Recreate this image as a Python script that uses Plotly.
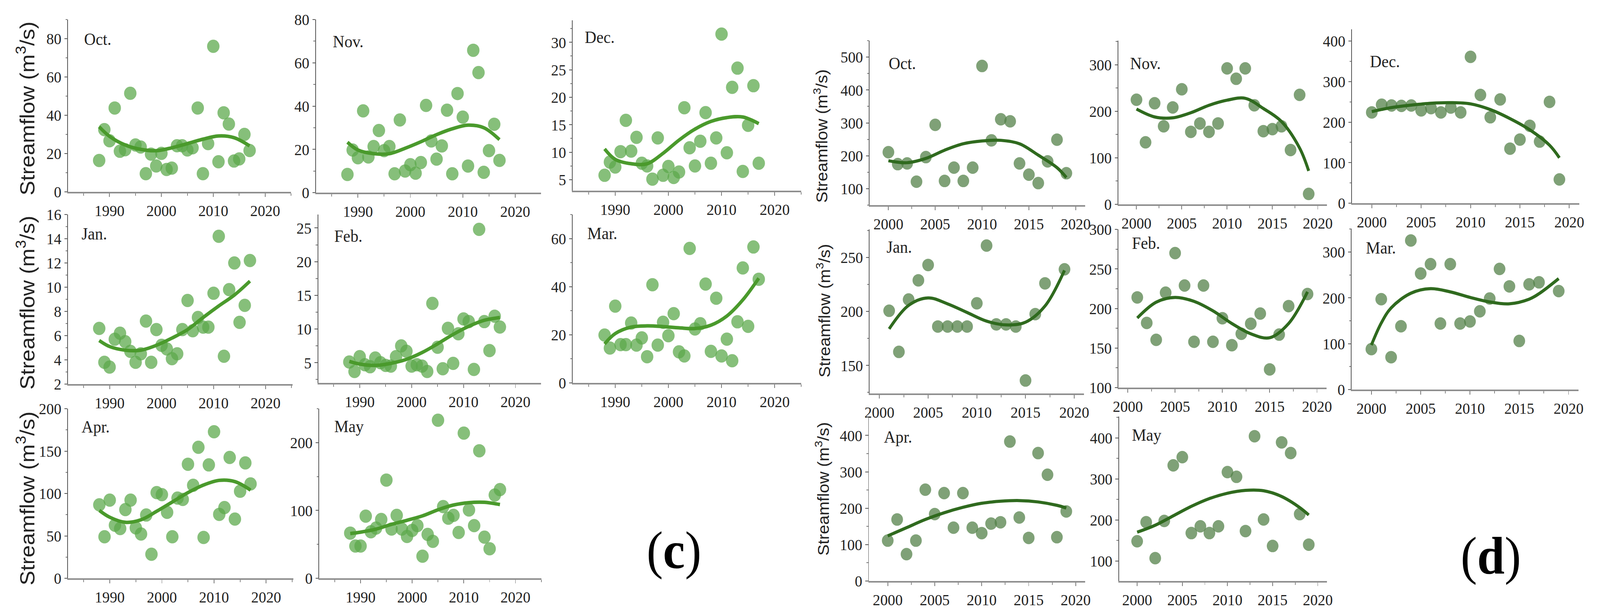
import plotly.graph_objects as go

W, H = 4375, 1574

# ---------------- panel (c): 1988-2017 ----------------
years_c = list(range(1988, 2018))
c_oct = [16.4, 32.5, 26.7, 43.8, 21.2, 22.0, 51.5, 24.5, 23.4, 9.5, 19.7, 13.5, 20.1, 11.7, 12.4,
         24.1, 24.1, 21.9, 23.0, 43.8, 9.5, 25.2, 76.0, 15.7, 41.3, 35.4, 16.1, 17.2, 30.0, 21.6]
c_nov = [8.4, 19.7, 16.1, 37.8, 16.5, 21.3, 28.7, 19.4, 21.3, 8.7, 33.6, 10.0, 12.9, 9.0, 13.9,
         40.3, 23.9, 15.5, 21.6, 38.1, 8.7, 45.8, 34.9, 12.3, 65.8, 55.5, 9.4, 19.4, 31.6, 14.9]
c_dec = [5.8, 8.2, 7.3, 10.1, 15.8, 10.2, 12.7, 8.0, 7.5, 5.1, 12.6, 5.8, 7.4, 5.4, 6.4,
         18.1, 10.8, 7.5, 12.0, 17.2, 8.0, 12.6, 31.5, 9.9, 21.8, 25.3, 6.5, 14.9, 22.1, 8.0]
c_jan = [6.6, 3.8, 3.4, 5.7, 6.2, 5.5, 4.7, 3.8, 4.5, 7.2, 3.8, 6.5, 5.2, 4.9, 4.1,
         4.5, 6.5, 8.9, 6.4, 7.5, 6.7, 6.7, 9.5, 14.2, 4.3, 9.8, 12.0, 7.1, 8.5, 12.2]
c_feb = [5.1, 3.7, 5.9, 4.7, 4.4, 5.7, 5.0, 4.6, 4.5, 5.9, 7.5, 6.7, 4.5, 4.7, 4.5,
         3.7, 13.8, 7.3, 4.1, 10.1, 4.9, 9.3, 11.5, 11.1, 4.0, 24.8, 11.1, 6.8, 11.9, 10.3]
c_mar = [19.9, 14.5, 31.9, 15.9, 15.9, 24.9, 15.7, 18.7, 10.9, 40.8, 15.7, 25.2, 19.6, 28.8, 12.9,
         11.2, 55.9, 22.4, 24.6, 41.1, 13.1, 35.2, 11.2, 18.2, 9.2, 25.4, 47.8, 23.5, 56.5, 43.1]
c_apr = [86.6, 49.0, 92.2, 62.6, 58.6, 81.0, 92.2, 59.4, 52.2, 74.6, 28.3, 101.0, 98.6, 77.8, 49.0,
         94.6, 93.0, 134.5, 109.7, 154.5, 48.2, 133.7, 172.8, 75.4, 83.4, 142.5, 69.8, 102.6, 136.1, 111.3]
c_may = [66.6, 47.5, 47.5, 91.6, 68.6, 74.0, 86.7, 144.8, 72.6, 92.7, 72.6, 61.6, 70.6, 77.6, 32.5,
         64.6, 54.5, 233.0, 105.7, 88.6, 92.7, 67.6, 214.0, 100.7, 77.6, 188.0, 60.6, 43.5, 122.7, 130.7]

# fitted trend curves
fit_years_c = [1988, 1990, 1993, 1996, 1999, 2002, 2005, 2008, 2011, 2014, 2017]
c_oct_fit = [34.0, 29.0, 24.5, 22.2, 21.5, 23.0, 25.2, 27.5, 29.2, 28.3, 24.0]
c_nov_fit = [23.3, 19.7, 18.0, 18.0, 20.5, 23.5, 26.8, 29.5, 31.2, 30.0, 24.5]
c_dec_fit = [10.6, 8.7, 7.9, 7.9, 9.8, 12.2, 14.2, 15.6, 16.3, 16.4, 15.2]
c_jan_fit = [5.6, 5.1, 4.8, 4.8, 5.2, 5.8, 6.5, 7.5, 8.45, 9.35, 10.5]
c_feb_fit = [5.2, 4.8, 4.6, 4.9, 5.5, 6.5, 7.8, 9.2, 10.4, 11.3, 11.7]
c_mar_fit = [16.2, 20.5, 23.2, 23.7, 23.4, 22.9, 22.6, 24.0, 27.8, 34.5, 43.5]
c_apr_fit = [80, 72, 66, 69, 79, 90, 101, 110, 115.5, 114, 104]
c_may_fit = [66, 68, 72.5, 79.5, 85.5, 92, 101, 108, 111.5, 112, 108.7]

# ---------------- panel (d): 2000-2019 ----------------
years_d = list(range(2000, 2020))
years_d_jan = [2001, 2002, 2003, 2004, 2005, 2006, 2007, 2008, 2009, 2010,
               2011, 2012, 2013, 2014, 2015, 2016, 2017, 2019]
years_d_mar = [2000, 2001, 2002, 2003, 2004, 2005, 2006, 2007, 2008, 2009, 2010,
               2011, 2012, 2013, 2014, 2015, 2016, 2017, 2019]
d_oct = [210.9, 174.6, 176.8, 121.3, 196.0, 294.0, 123.5, 164.0, 123.5, 164.0,
         473.0, 247.0, 311.0, 304.7, 176.8, 142.6, 117.0, 183.0, 249.0, 147.0]
d_nov = [224.9, 133.4, 217.4, 167.9, 208.4, 247.4, 155.9, 174.0, 155.9, 174.0,
         292.4, 270.0, 292.4, 213.0, 157.4, 161.8, 167.9, 116.8, 235.4, 22.4]
d_dec = [224, 243, 241, 240, 241, 229, 234.5, 224, 236, 224,
         361, 267, 212, 256, 134.5, 157, 191, 152, 250, 58.6]
d_jan = [200.6, 162.5, 211, 228.8, 243, 186, 186, 186, 186, 207.5,
         261, 188, 188, 186, 136, 197.5, 226, 239]
d_feb = [214, 181.7, 160.4, 220, 270, 229, 157.9, 229, 157.9, 187.7,
         153.6, 168, 180.8, 193.6, 123, 167, 203, 218.3]
d_mar = [88.2, 197, 70.6, 138, 325, 253, 273.5, 144, 273.5, 144,
         148.5, 170.6, 198.5, 263, 225, 106, 229.4, 233.8, 214.7]
d_apr = [111, 169, 73.8, 111, 251, 183.8, 241.6, 146.5, 241.6, 146.5,
         131.6, 157.7, 161.4, 383.2, 174.5, 118.5, 351.5, 292, 120.4, 191.2]
d_may = [147.9, 194.3, 106.7, 197.5, 333, 352.9, 167.8, 184.3, 167.8, 184.3,
         316.5, 305, 172.8, 404, 201, 136.4, 389, 362.9, 214, 139.7]

fit_years_d = [2000, 2002, 2004, 2006, 2008, 2010, 2012, 2014, 2016, 2018, 2019]
fit_years_d_jan = [2001, 2003, 2005, 2007, 2009, 2011, 2013, 2015, 2017, 2019]
fit_years_d_mar = [2000, 2001, 2002, 2004, 2006, 2008, 2010, 2012, 2014, 2016, 2017, 2019]
d_oct_fit = [185, 179, 192, 217, 236.5, 245, 247, 236.5, 202, 164, 134]
d_nov_fit = [205, 188, 186, 197, 213, 224, 228, 206, 178, 121, 72]
d_dec_fit = [226, 236, 242, 246.6, 248, 245, 231, 208.6, 181, 143, 112]
d_jan_fit = [183.8, 205.6, 212.5, 207, 199, 191, 187.5, 190, 205, 238]
d_feb_fit = [188, 208, 214, 209, 197, 181, 168, 163, 181, 221]
d_mar_fit = [97, 145, 178, 210, 220, 213, 201, 191, 187, 197, 209, 242]
d_apr_fit = [124, 146.5, 169, 187.5, 202.4, 213.6, 219.2, 221, 217.3, 208, 200.6]
d_may_fit = [170, 187, 210, 233, 252, 265, 272, 271, 257, 230, 212]

months = ["Oct.", "Nov.", "Dec.", "Jan.", "Feb.", "Mar.", "Apr.", "May"]

# layout of each small plot in pixels: left, right, top, bottom, x range, y range, y dtick, y tick0
boxes_c = [
    (186, 796, 50, 491, [1982, 2025], [0, 90], 20, 0),
    (864, 1479, 50, 493, [1982, 2024.9], [0, 80], 20, 0),
    (1566, 2191, 52, 488, [1982, 2025], [3, 34], 5, 5),
    (186, 800, 549, 983, [1982, 2025.2], [2, 16], 2, 2),
    (870, 1479, 549, 980, [1982, 2024.9], [2, 27], 5, 5),
    (1566, 2191, 549, 980, [1982, 2025], [0, 70], 20, 0),
    (186, 802, 1046, 1480, [1982, 2025.2], [0, 200], 50, 0),
    (873, 1480, 1046, 1480, [1982, 2025], [0, 250], 100, 0),
]
boxes_d = [
    (2378, 2967, 104, 525, [1998, 2021], [50, 550], 100, 100),
    (3058, 3628, 104, 523, [1998, 2021], [0, 352], 100, 0),
    (3697, 4318, 75, 520, [1998, 2021], [0, 429], 100, 0),
    (2378, 2964, 587, 1007, [1999, 2021], [124, 276], 50, 150),
    (3058, 3627, 587, 992, [1999, 2021], [100, 300], 50, 100),
    (3696, 4316, 585, 997, [1998, 2021], [0, 351], 100, 0),
    (2376, 2967, 1066, 1487, [1998, 2021], [0, 452], 100, 0),
    (3060, 3628, 1066, 1487, [1998, 2021], [51, 452], 100, 100),
]
label_pos_c = [(228, 100), (908, 107), (1597, 96), (221, 599), (912, 604), (1604, 597), (221, 1092), (912, 1091)]
label_pos_d = [(2428, 162), (3088, 162), (3744, 157), (2422, 632), (3093, 622), (3733, 635), (2415, 1118), (3093, 1113)]

panel_c = [(years_c, c_oct, fit_years_c, c_oct_fit), (years_c, c_nov, fit_years_c, c_nov_fit),
           (years_c, c_dec, fit_years_c, c_dec_fit), (years_c, c_jan, fit_years_c, c_jan_fit),
           (years_c, c_feb, fit_years_c, c_feb_fit), (years_c, c_mar, fit_years_c, c_mar_fit),
           (years_c, c_apr, fit_years_c, c_apr_fit), (years_c, c_may, fit_years_c, c_may_fit)]
panel_d = [(years_d, d_oct, fit_years_d, d_oct_fit), (years_d, d_nov, fit_years_d, d_nov_fit),
           (years_d, d_dec, fit_years_d, d_dec_fit), (years_d_jan, d_jan, fit_years_d_jan, d_jan_fit),
           (years_d_jan, d_feb, fit_years_d_jan, d_feb_fit), (years_d_mar, d_mar, fit_years_d_mar, d_mar_fit),
           (years_d, d_apr, fit_years_d, d_apr_fit), (years_d, d_may, fit_years_d, d_may_fit)]

styles = {
    "c": dict(marker="rgba(92,168,76,0.74)", size=34, line="#4a9a2c", lw=9,
              xdtick=10, xtick0=1990, xminor=5),
    "d": dict(marker="rgba(82,128,72,0.74)", size=32, line="#2f6a1e", lw=8,
              xdtick=5, xtick0=2000, xminor=2.5),
}

tickfont = dict(family="Liberation Serif", size=41, color="#222")
fig = go.Figure()
annotations = []
layout = {}

n = 0
for key, panel, boxes, label_pos in [("c", panel_c, boxes_c, label_pos_c), ("d", panel_d, boxes_d, label_pos_d)]:
    st = styles[key]
    for i in range(8):
        n += 1
        sfx = "" if n == 1 else str(n)
        xs, ys, fx, fy = panel[i]
        l, r, t, b, xr, yr, ydt, y0 = boxes[i]
        fig.add_trace(go.Scatter(x=xs, y=ys, mode="markers", xaxis="x" + sfx, yaxis="y" + sfx,
                                 marker=dict(size=st["size"], color=st["marker"], line=dict(width=0)),
                                 cliponaxis=False, hoverinfo="x+y"))
        fig.add_trace(go.Scatter(x=fx, y=fy, mode="lines", xaxis="x" + sfx, yaxis="y" + sfx,
                                 line=dict(color=st["line"], width=st["lw"], shape="spline", smoothing=1.0),
                                 hoverinfo="skip"))
        layout["xaxis" + sfx] = dict(
            domain=[l / W, r / W], anchor="y" + sfx, range=xr, showgrid=False, zeroline=False,
            automargin=False, showline=True, linecolor="#8e8e8e", linewidth=4, ticks="outside",
            ticklen=9, tickwidth=2, tickcolor="#777", tick0=st["xtick0"], dtick=st["xdtick"],
            tickfont=tickfont,
            minor=dict(ticks="outside", ticklen=6, tickwidth=2, tickcolor="#888", dtick=st["xminor"]))
        layout["yaxis" + sfx] = dict(
            domain=[1 - b / H, 1 - t / H], anchor="x" + sfx, range=yr, showgrid=False, zeroline=False,
            automargin=False, showline=True, linecolor="#555", linewidth=2, ticks="outside", ticklen=8,
            tickwidth=2, tickcolor="#555", tick0=y0, dtick=ydt, tickfont=tickfont,
            minor=dict(ticks="outside", ticklen=5, tickwidth=1.5, tickcolor="#777", dtick=ydt / 2))
        lx, ly = label_pos[i]
        annotations.append(dict(text=months[i], x=lx / W, y=1 - ly / H, xref="paper", yref="paper",
                                xanchor="left", yanchor="middle", showarrow=False,
                                font=dict(family="Liberation Serif", size=44, color="#222")))

# y axis titles (first column only)
ytitle = "Streamflow (m<sup>3</sup>/s)"
for (x, y, size) in [(70, 278, 56), (70, 775, 56), (70, 1276, 56),
                     (2244, 348, 43), (2252, 795, 43), (2248, 1251, 43)]:
    annotations.append(dict(text=ytitle, x=x / W, y=1 - y / H, xref="paper", yref="paper",
                            textangle=-90, showarrow=False, xanchor="center", yanchor="middle",
                            font=dict(family="Liberation Sans", size=size, color="#222")))

# panel letters
for txt, x, y in [("(<b>c</b>)", 1843, 1408), ("(<b>d</b>)", 4076, 1422)]:
    annotations.append(dict(text=txt, x=x / W, y=1 - y / H, xref="paper", yref="paper",
                            showarrow=False, xanchor="center", yanchor="middle",
                            font=dict(family="Liberation Serif", size=135, color="#000")))

fig.update_layout(width=W, height=H, margin=dict(l=0, r=0, t=0, b=0, autoexpand=False),
                  showlegend=False, paper_bgcolor="white", plot_bgcolor="white",
                  annotations=annotations, **layout)

# stretch the figure onto the browser view, whatever its inner size
fit_js = (
    "document.documentElement.style.overflow='hidden';"
    "document.body.style.margin='0';document.body.style.overflow='hidden';"
    "var gd=document.getElementById('{plot_id}');"
    "var sx=window.innerWidth/%d, sy=window.innerHeight/%d;"
    "if (Math.abs(sx-1)>0.001 || Math.abs(sy-1)>0.001){"
    "gd.style.transformOrigin='0 0';gd.style.transform='scale('+sx+','+sy+')';}"
) % (W, H)

fig.write_html("out.html", config={"displayModeBar": False}, post_script=fit_js)
